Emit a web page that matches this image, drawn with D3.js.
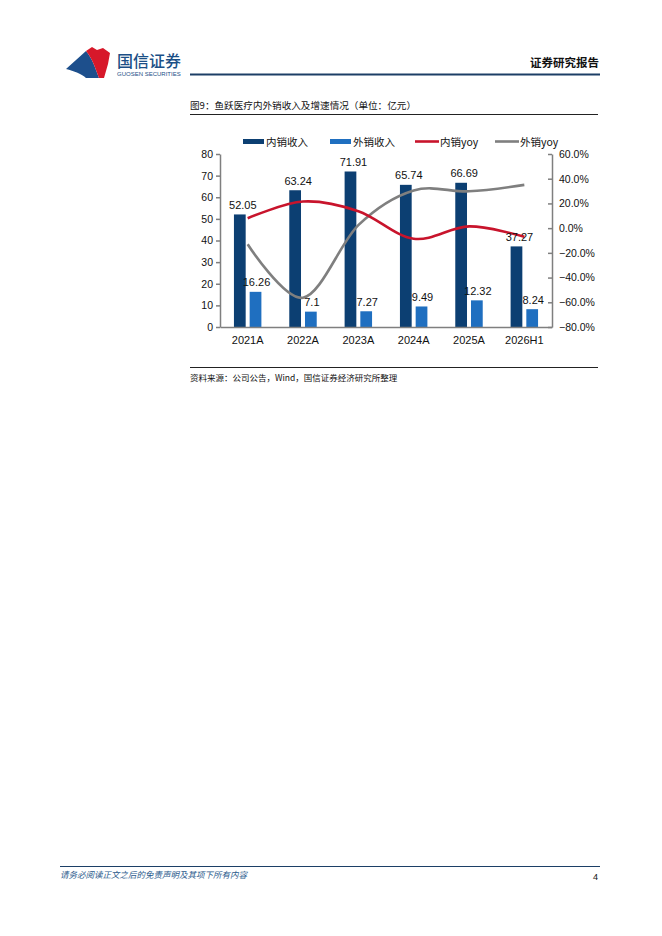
<!DOCTYPE html>
<html><head><meta charset="utf-8">
<script src="https://cdn.jsdelivr.net/npm/d3@7"></script>
<style>body{margin:0;background:#fff}svg{display:block}</style>
</head><body>
<script>
const categories = ["2021A","2022A","2023A","2024A","2025A","2026H1"];
const domestic = [52.05, 63.24, 71.91, 65.74, 66.69, 37.27];
const overseas = [16.26, 7.1, 7.27, 9.49, 12.32, 8.24];
const domesticYoy = [0.08, 0.215, 0.137, -0.086, 0.014, -0.07];
const overseasYoy = [-0.13, -0.563, 0.024, 0.305, 0.298, 0.35];
const leftTicks = [0,10,20,30,40,50,60,70,80];
const rightTicks = [-0.8,-0.6,-0.4,-0.2,0,0.2,0.4,0.6];
const seriesNames = ["内销收入","外销收入","内销yoy","外销yoy"];

const W=662,H=936;
const C = {dark:"#0c3f72", light:"#1f6fc0", red:"#c8142c", grey:"#7f7f7f", navy:"#1b4f86"};
const font = "Liberation Sans, Arial, Noto Sans CJK SC, sans-serif";
const cjk = "Noto Sans CJK SC, sans-serif";
const svg = d3.select("body").append("svg").attr("width",W).attr("height",H);

// Header logo
svg.append("path").attr("d","M66,69 L86,51 C92,58 95,67 99,78 L86,78 C82,74 74,71 66,69 Z").attr("fill","#1d4f8c");
svg.append("path").attr("d","M86,51 L92,47 L97,50 L103,48 L110,53 L108,64 L104,78 L99,78 C95,67 92,58 86,51 Z").attr("fill","#d7182a");
svg.append("text").attr("x",117).attr("y",67).attr("font-family",cjk).attr("font-size",16).attr("font-weight",500).attr("fill",C.navy).text("国信证券");
svg.append("text").attr("x",117).attr("y",75.5).attr("font-family",font).attr("font-size",6).attr("fill",C.navy).text("GUOSEN SECURITIES");
svg.append("text").attr("x",599).attr("y",67).attr("text-anchor","end").attr("font-family",cjk).attr("font-size",11.5).attr("font-weight",700).attr("fill","#111").text("证券研究报告");
svg.append("rect").attr("x",190).attr("y",73.5).attr("width",410).attr("height",2).attr("fill","#1c3f66");

// Title
svg.append("text").attr("x",190).attr("y",109).attr("font-family",cjk).attr("font-size",9.6).attr("fill","#111").text("图9：鱼跃医疗内外销收入及增速情况（单位：亿元）");
svg.append("line").attr("x1",190).attr("x2",598).attr("y1",114.5).attr("y2",114.5).attr("stroke","#222").attr("stroke-width",1);

// Scales
const x = d3.scaleBand().domain(categories).range([220,552]);
const yL = d3.scaleLinear().domain([0,80]).range([327,154]);
const yR = d3.scaleLinear().domain([-0.8,0.6]).range([327,154]);
const bw = x.bandwidth()*0.212, gap = x.bandwidth()*0.036;

// Bars
const g = svg.append("g");
g.selectAll(".bd").data(domestic).join("rect").attr("x",(d,i)=>x(categories[i])+x.bandwidth()/2-gap-bw).attr("y",d=>yL(d)).attr("width",bw).attr("height",d=>yL(0)-yL(d)).attr("fill",C.dark);
g.selectAll(".bo").data(overseas).join("rect").attr("x",(d,i)=>x(categories[i])+x.bandwidth()/2+gap).attr("y",d=>yL(d)).attr("width",bw).attr("height",d=>yL(0)-yL(d)).attr("fill",C.light);

// Axes
const axL = svg.append("g").attr("transform","translate(220,0)").call(d3.axisLeft(yL).tickValues(leftTicks).tickSize(4).tickSizeOuter(0).tickFormat(d3.format("d")));
const axR = svg.append("g").attr("transform","translate(552,0)").call(d3.axisRight(yR).tickValues(rightTicks).tickSize(-4).tickSizeOuter(0).tickFormat(d3.format(".1%")));
const axX = svg.append("g").attr("transform","translate(0,327)").call(d3.axisBottom(x).tickSize(0).tickSizeOuter(0));
[axL,axR,axX].forEach(a=>{
  a.selectAll("path,line").attr("stroke",C.grey).attr("stroke-width",1.5);
  a.selectAll("text").attr("font-family",font).attr("font-size",10.5).attr("fill","#111");
});
axL.selectAll("text").attr("x",-7);
axR.selectAll("text").attr("x",7);
axX.selectAll("text").attr("dy","1.25em").attr("font-size",11);

// Lines
const curve = d3.curveCardinal.tension(0);
const line = d3.line().x((d,i)=>x(categories[i])+x.bandwidth()/2).y(d=>yR(d)).curve(curve);
svg.append("path").attr("d",line(overseasYoy)).attr("fill","none").attr("stroke",C.grey).attr("stroke-width",2.6);
svg.append("path").attr("d",line(domesticYoy)).attr("fill","none").attr("stroke",C.red).attr("stroke-width",2.6);

// Labels
const lab = svg.append("g").attr("font-family",font).attr("font-size",11).attr("fill","#111").attr("text-anchor","middle");
lab.selectAll(".ld").data(domestic).join("text").attr("x",(d,i)=>x(categories[i])+x.bandwidth()/2-gap-bw/2+3).attr("y",d=>yL(d)-5.5).text(d=>d);
lab.selectAll(".lo").data(overseas).join("text").attr("x",(d,i)=>x(categories[i])+x.bandwidth()/2+gap+bw/2+1).attr("y",d=>yL(d)-5.5).text(d=>d);

// Legend
const leg = [
  {n:seriesNames[0],c:C.dark,t:"bar",x:243},
  {n:seriesNames[1],c:C.light,t:"bar",x:330},
  {n:seriesNames[2],c:C.red,t:"line",x:415},
  {n:seriesNames[3],c:C.grey,t:"line",x:495}
];
leg.forEach(l=>{
  if(l.t==="bar") svg.append("rect").attr("x",l.x).attr("y",139).attr("width",21).attr("height",5).attr("fill",l.c);
  else svg.append("line").attr("x1",l.x).attr("x2",l.x+24).attr("y1",141.5).attr("y2",141.5).attr("stroke",l.c).attr("stroke-width",2.6);
  svg.append("text").attr("x",l.x+(l.t==="bar"?23:25)).attr("y",145.5).attr("font-family",cjk).attr("font-size",10.5).attr("fill","#111").text(l.n);
});

// Source
svg.append("line").attr("x1",190).attr("x2",598).attr("y1",367.5).attr("y2",367.5).attr("stroke","#222").attr("stroke-width",1);
svg.append("text").attr("x",190).attr("y",381).attr("font-family",cjk).attr("font-size",8.5).attr("fill","#111").text("资料来源：公司公告，Wind，国信证券经济研究所整理");

// Footer
svg.append("line").attr("x1",60).attr("x2",600).attr("y1",866.5).attr("y2",866.5).attr("stroke","#1c3f66").attr("stroke-width",1);
svg.append("text").attr("x",60).attr("y",878).attr("font-family",cjk).attr("font-size",8.5).attr("font-style","italic").attr("fill","#2a5a8c").text("请务必阅读正文之后的免责声明及其项下所有内容");
svg.append("text").attr("x",598).attr("y",880).attr("text-anchor","end").attr("font-family",font).attr("font-size",9).attr("fill","#111").text("4");
</script>
</body></html>
